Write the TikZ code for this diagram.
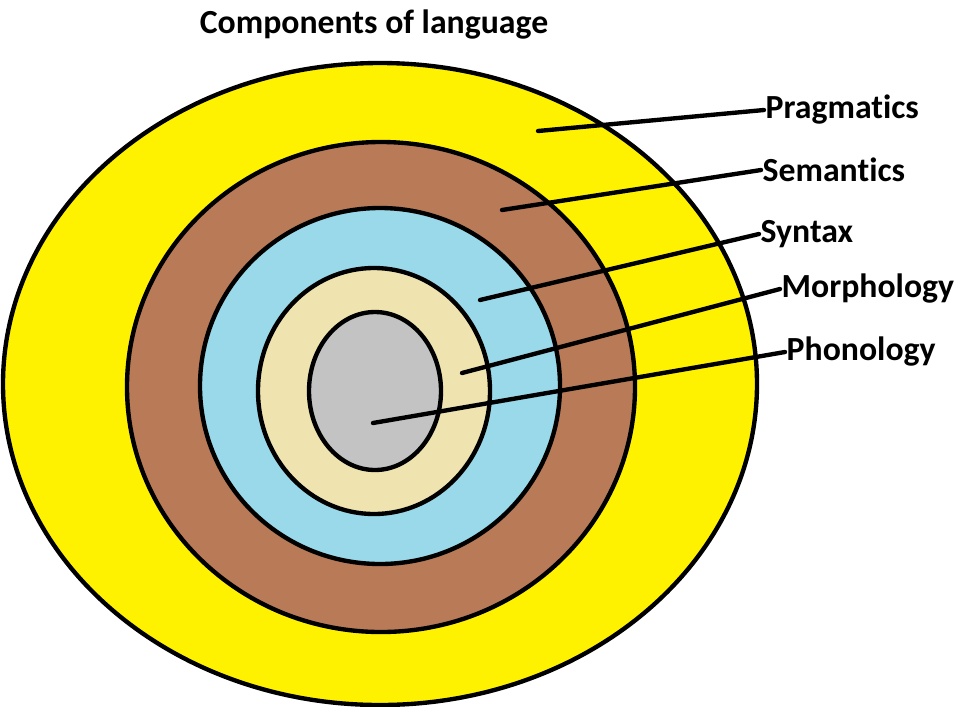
\documentclass[tikz,border=0pt]{standalone}
\usepackage{fontspec}
\setsansfont{Carlito}[Ligatures=NoCommon]
\usepackage{tikz}
\usetikzlibrary{positioning}
\definecolor{ringyellow}{RGB}{255, 242, 0}
\definecolor{ringbrown}{RGB}{185, 122, 87}
\definecolor{ringblue}{RGB}{153, 217, 234}
\definecolor{ringbeige}{RGB}{239, 228, 176}
\definecolor{ringgrey}{RGB}{195, 195, 195}
\tikzset{
  ring/.style={draw=black, line width=3.1pt},
  leader/.style={black, line width=3.1pt, line cap=round},
  layername/.style={
    anchor=west, inner sep=1pt,
    font=\sffamily\bfseries\fontsize{24}{28}\selectfont
  },
  heading/.style={font=\sffamily\bfseries\fontsize{24}{28}\selectfont}
}

\begin{document}
\begin{tikzpicture}[x=0.025cm, y=-0.025cm]
\useasboundingbox (0, 0) rectangle (967, 706);

% title
\node[heading] (title) at (374, 25) {Components of language};

% rings, outside to inside
\filldraw[ring, fill=ringyellow] (380, 384) ellipse (377 and 321);
\filldraw[ring, fill=ringbrown] (381, 387) ellipse (254 and 245);
\filldraw[ring, fill=ringblue] (380, 386) ellipse (180 and 178);
\filldraw[ring, fill=ringbeige] (374, 391) ellipse (116 and 123);
\filldraw[ring, fill=ringgrey] (375, 391) ellipse (66 and 79);

% where the leaders start
\coordinate (pragIn) at (538, 131);
\coordinate (semIn) at (502, 210);
\coordinate (synIn) at (480, 300);
\coordinate (morIn) at (462, 373);
\coordinate (phoIn) at (373, 423);

% labels
\node[layername] (prag) at (764, 110) {Pragmatics};
\node[layername] (sem) at (761, 170) {Semantics};
\node[layername] (syn) at (759, 234) {Syntax};
\node[layername] (mor) at (780, 289) {Morphology};
\node[layername] (pho) at (785, 352) {Phonology};

% leaders
\draw[leader] (pragIn) -- (prag.west);
\draw[leader] (semIn) -- (sem.west);
\draw[leader] (synIn) -- (syn.west);
\draw[leader] (morIn) -- (mor.west);
\draw[leader] (phoIn) -- (pho.west);

\end{tikzpicture}
\end{document}
